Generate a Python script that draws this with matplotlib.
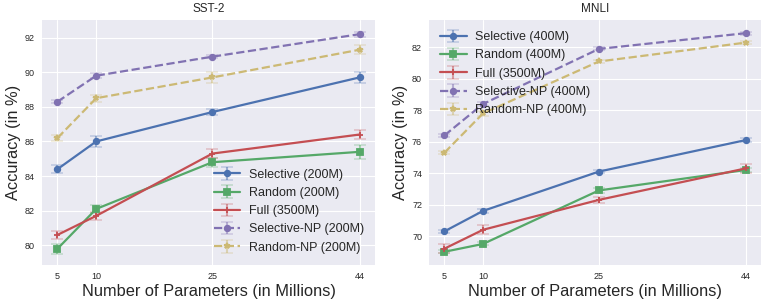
import numpy as np
import matplotlib
matplotlib.use('Agg')
import matplotlib.pyplot as plt

plt.style.use('seaborn-v0_8-darkgrid')
plt.rcParams['font.family'] = ['Liberation Sans', 'DejaVu Sans']

params = [5, 10, 25, 44]

# SST-2
sst_sel = [84.4, 86.0, 87.7, 89.7]
sst_sel_err = [0.25, 0.3, 0.2, 0.3]
sst_rand = [79.8, 82.1, 84.8, 85.4]
sst_rand_err = [0.3, 0.25, 0.25, 0.4]
sst_full = [80.6, 81.7, 85.3, 86.4]
sst_full_err = [0.25, 0.25, 0.25, 0.25]
sst_selnp = [88.3, 89.8, 90.9, 92.2]
sst_selnp_err = [0.1, 0.15, 0.1, 0.15]
sst_randnp = [86.2, 88.5, 89.7, 91.3]
sst_randnp_err = [0.15, 0.2, 0.3, 0.25]

# MNLI
mnli_sel = [70.3, 71.6, 74.1, 76.1]
mnli_sel_err = [0.1, 0.15, 0.1, 0.15]
mnli_rand = [69.0, 69.5, 72.9, 74.2]
mnli_rand_err = [0.1, 0.1, 0.15, 0.15]
mnli_full = [69.2, 70.4, 72.3, 74.3]
mnli_full_err = [0.3, 0.3, 0.2, 0.3]
mnli_selnp = [76.4, 78.4, 81.9, 82.9]
mnli_selnp_err = [0.1, 0.1, 0.1, 0.1]
mnli_randnp = [75.3, 77.8, 81.1, 82.3]
mnli_randnp_err = [0.1, 0.15, 0.1, 0.1]

colors = ['#4C72B0', '#55A868', '#C44E52', '#8172B2', '#CCB974']
markers = ['o', 's', '+', 'o', '*']
styles = ['-', '-', '-', '--', '--']


def draw(ax, series, labels, title, ylim, loc):
    for i, (y, e) in enumerate(series):
        cont = ax.errorbar(params, y, yerr=e, color=colors[i], marker=markers[i],
                           ls=styles[i], lw=1.6, ms=4, mew=1.3, capsize=4,
                           elinewidth=1.5, label=labels[i])
        for c in cont[1]:
            c.set_alpha(0.25)
        for c in cont[2]:
            c.set_alpha(0.5)
    ax.set_title(title, fontsize=8.5, pad=6)
    ax.set_xticks(params)
    ax.set_xlim(3, 46)
    ax.set_ylim(*ylim)
    ax.tick_params(labelsize=6.5, pad=5)
    ax.set_xlabel('Number of Parameters (in Millions)', fontsize=11.8, labelpad=2)
    ax.set_ylabel('Accuracy (in %)', fontsize=11.8, labelpad=3)
    ax.legend(loc=loc, fontsize=9, frameon=False, handlelength=2.1,
              handletextpad=0.7, labelspacing=0.5)


fig = plt.figure(figsize=(7.68, 3.06), dpi=100)
ax1 = fig.add_axes([0.0547, 0.134, 0.4336, 0.8007])
ax2 = fig.add_axes([0.5586, 0.134, 0.4323, 0.8007])

draw(ax1, [(sst_sel, sst_sel_err), (sst_rand, sst_rand_err), (sst_full, sst_full_err),
           (sst_selnp, sst_selnp_err), (sst_randnp, sst_randnp_err)],
     ['Selective (200M)', 'Random (200M)', 'Full (3500M)',
      'Selective-NP (200M)', 'Random-NP (200M)'],
     'SST-2', (78.86, 93.02), 'lower right')
draw(ax2, [(mnli_sel, mnli_sel_err), (mnli_rand, mnli_rand_err), (mnli_full, mnli_full_err),
           (mnli_selnp, mnli_selnp_err), (mnli_randnp, mnli_randnp_err)],
     ['Selective (400M)', 'Random (400M)', 'Full (3500M)',
      'Selective-NP (400M)', 'Random-NP (400M)'],
     'MNLI', (68.16, 83.74), 'upper left')

fig.savefig('out.png', dpi=100)
